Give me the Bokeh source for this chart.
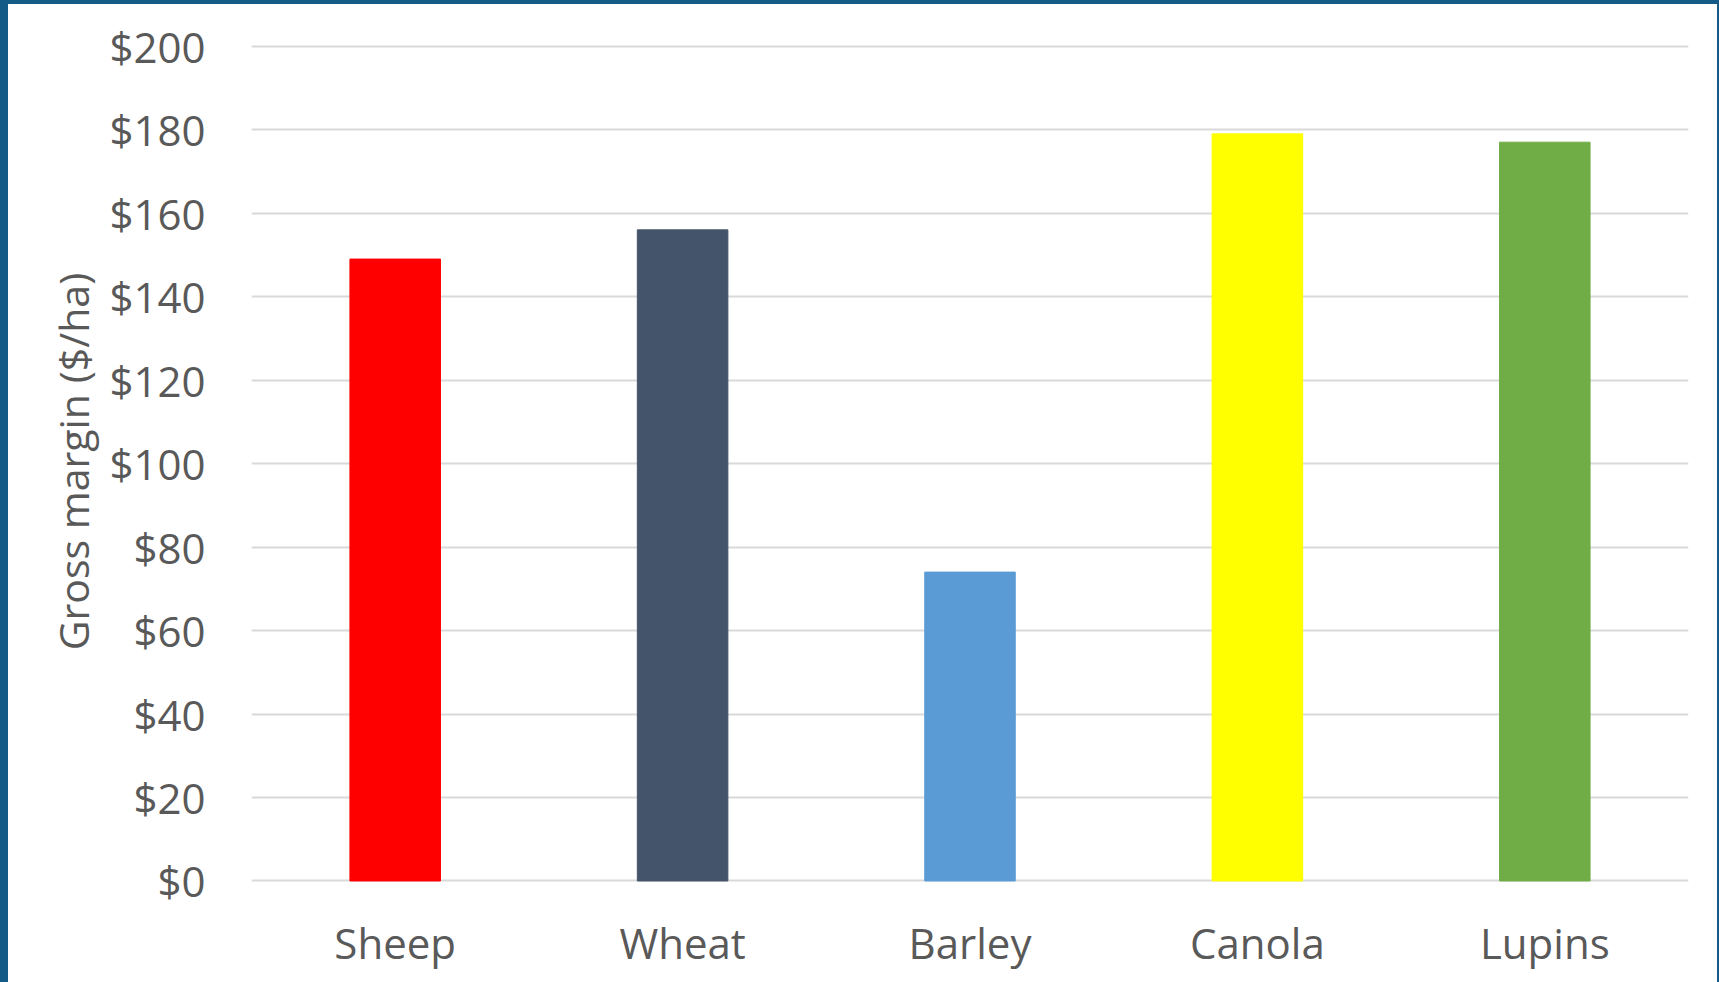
from bokeh.plotting import figure
from bokeh.models import Range1d, NumeralTickFormatter, FixedTicker, ColumnDataSource
from bokeh.embed import file_html
from bokeh.resources import INLINE

categories = ["Sheep", "Wheat", "Barley", "Canola", "Lupins"]
gross_margin = [149, 156, 74, 179, 177]
bar_colors = ["#FF0000", "#44546A", "#5B9BD5", "#FFFF00", "#70AD47"]
y_ticks = [0, 20, 40, 60, 80, 100, 120, 140, 160, 180, 200]

FONT = "Open Sans"
GREY = "#595959"
FRAME_BLUE = "#155B88"

src = ColumnDataSource(dict(cat=categories, val=gross_margin, col=bar_colors))

p = figure(
    x_range=categories,
    y_range=Range1d(-3, 204),
    width=1719, height=982,
    output_backend="svg", toolbar_location=None,
    min_border_left=243, min_border_right=39, min_border_top=25, min_border_bottom=93,
)
p.styles = {
    "border-left": f"8px solid {FRAME_BLUE}",
    "border-top": f"4px solid {FRAME_BLUE}",
    "border-right": f"2px solid {FRAME_BLUE}",
    "overflow": "hidden",
}
p.vbar(x="cat", top="val", width=0.315, color="col", source=src)

p.outline_line_color = None
p.background_fill_color = "white"
p.border_fill_color = "white"

p.xgrid.grid_line_color = None
p.ygrid.grid_line_color = "#D9D9D9"
p.ygrid.grid_line_width = 2
p.yaxis.ticker = FixedTicker(ticks=y_ticks)
p.yaxis.formatter = NumeralTickFormatter(format="$0")

for ax in (p.xaxis[0], p.yaxis[0]):
    ax.axis_line_color = None
    ax.major_tick_line_color = None
    ax.minor_tick_line_color = None
    ax.major_tick_out = 0
    ax.major_tick_in = 0
    ax.major_label_text_font = FONT
    ax.major_label_text_font_size = "42px"
    ax.major_label_text_color = GREY

p.xaxis.major_label_standoff = 20
p.yaxis.major_label_standoff = 46
p.yaxis.axis_label = "Gross margin ($/ha)"
p.yaxis.axis_label_text_font = FONT
p.yaxis.axis_label_text_font_size = "41px"
p.yaxis.axis_label_text_font_style = "normal"
p.yaxis.axis_label_text_color = GREY
p.yaxis.axis_label_standoff = 5

open("out.html", "w").write(file_html(p, INLINE))
